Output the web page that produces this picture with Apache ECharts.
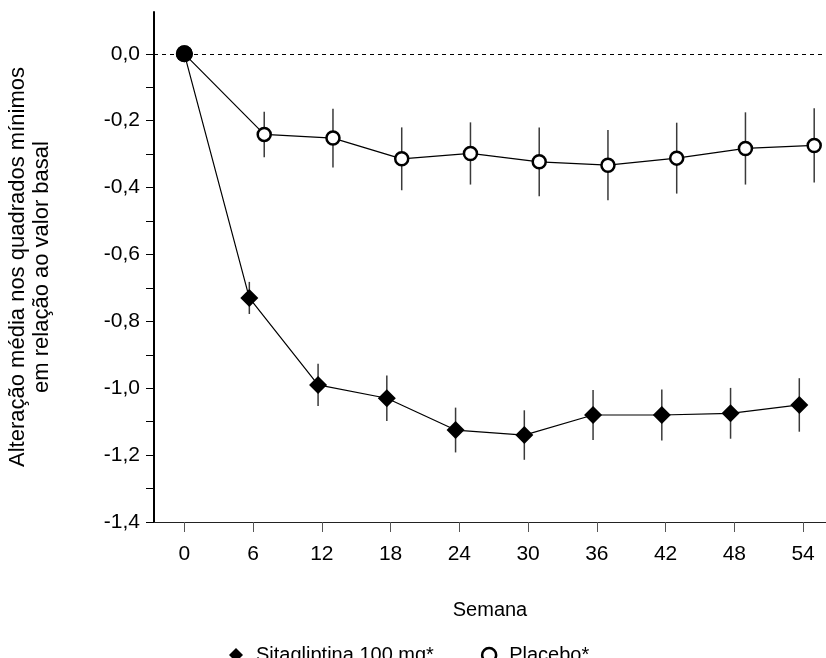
<!DOCTYPE html>
<html><head><meta charset="utf-8">
<script src="https://cdn.jsdelivr.net/npm/echarts@6/dist/echarts.min.js"></script>
<style>html,body{margin:0;padding:0;background:#fff}#c{width:826px;height:658px}</style>
</head><body><div id="c"></div>
<script>
// ---- data ----
const weeks = [0, 6, 12, 18, 24, 30, 36, 42, 48, 54];
const sitaMean = [0, -0.73, -0.99, -1.03, -1.125, -1.14, -1.08, -1.08, -1.075, -1.05];
const sitaErr  = [0, 0.048, 0.063, 0.068, 0.067, 0.074, 0.075, 0.076, 0.076, 0.08];
const placMean = [0, -0.241, -0.252, -0.314, -0.298, -0.323, -0.333, -0.312, -0.283, -0.274];
const placErr  = [0, 0.068, 0.088, 0.094, 0.093, 0.103, 0.105, 0.106, 0.108, 0.111];
const yTickValues  = [0, -0.1, -0.2, -0.3, -0.4, -0.5, -0.6, -0.7, -0.8, -0.9, -1.0, -1.1, -1.2, -1.3, -1.4];
const yLabelValues = [0, -0.2, -0.4, -0.6, -0.8, -1.0, -1.2, -1.4];
const xTickValues  = weeks;
const sitaName = 'Sitagliptina 100 mg*';
const placName = 'Placebo*';
const yTitle = 'Alteração média nos quadrados mínimos\nem relação ao valor basal';
const xTitle = 'Semana';

// small horizontal offsets of the two groups (in weeks), as drawn in the figure
const SITA_SHIFT = -0.33, PLAC_SHIFT = 0.97;

const FONT = "'Liberation Sans', Arial, sans-serif";
const shiftX = (w, s) => (w === 0 ? 0 : w + s);

const sitaPts = weeks.map((w, i) => {
  const p = { value: [shiftX(w, SITA_SHIFT), sitaMean[i]] };
  if (w === 0) { p.symbol = 'circle'; p.symbolSize = 17; }
  return p;
});
const placPts = weeks.map((w, i) => {
  const p = { value: [shiftX(w, PLAC_SHIFT), placMean[i]] };
  if (w === 0) { p.symbol = 'circle'; p.symbolSize = 17; p.itemStyle = { color: '#000', borderColor: '#000', borderWidth: 0 }; }
  return p;
});
const sitaBars = weeks.map((w, i) => [shiftX(w, SITA_SHIFT), sitaMean[i] - sitaErr[i], sitaMean[i] + sitaErr[i]]).filter((d, i) => sitaErr[i] > 0);
const placBars = weeks.map((w, i) => [shiftX(w, PLAC_SHIFT), placMean[i] - placErr[i], placMean[i] + placErr[i]]).filter((d, i) => placErr[i] > 0);

function errRender(params, api) {
  const x = api.value(0), lo = api.value(1), hi = api.value(2);
  const p1 = api.coord([x, hi]), p2 = api.coord([x, lo]);
  return { type: 'line', shape: { x1: p1[0], y1: p1[1], x2: p2[0], y2: p2[1] },
           style: { stroke: '#3a3a3a', lineWidth: 1.5 } };
}

const chart = echarts.init(document.getElementById('c'), null, { renderer: 'canvas' });
chart.setOption({
  animation: false,
  backgroundColor: '#fff',
  textStyle: { fontFamily: FONT },
  grid: { left: 154, right: 0, top: 12, bottom: 136, containLabel: false, outerBoundsMode: 'none' },
  legend: {
    left: 224, top: 640, itemWidth: 14, itemHeight: 14, itemGap: 47,
    textStyle: { fontFamily: FONT, fontSize: 20, color: '#000', padding: [0, 0, 0, 8] },
    data: [
      { name: sitaName, icon: 'diamond', itemStyle: { color: '#000' } },
      { name: placName, icon: 'circle', itemStyle: { color: '#fff', borderColor: '#000', borderWidth: 2.5 } }
    ]
  },
  xAxis: {
    type: 'value', min: -2.65, max: 56,
    name: xTitle, nameLocation: 'middle', nameGap: 78,
    nameTextStyle: { fontSize: 20, color: '#000', fontFamily: FONT },
    axisLine: { show: true, onZero: false, lineStyle: { color: '#222', width: 1.2 } },
    axisTick: { show: true, customValues: xTickValues, length: 10, lineStyle: { color: '#555', width: 1 } },
    axisLabel: { customValues: xTickValues, margin: 22, fontSize: 21, color: '#000', fontFamily: FONT },
    splitLine: { show: false }
  },
  yAxis: {
    type: 'value', min: -1.4, max: 0.125,
    name: yTitle, nameLocation: 'middle', nameGap: 100, nameRotate: 90,
    nameTextStyle: { fontSize: 22, color: '#000', fontFamily: FONT, lineHeight: 24, align: 'center' },
    axisLine: { show: true, onZero: false, lineStyle: { color: '#000', width: 2 } },
    axisTick: { show: true, customValues: yTickValues, length: 8, lineStyle: { color: '#000', width: 1 } },
    axisLabel: { customValues: yLabelValues, margin: 14, fontSize: 21, color: '#000', fontFamily: FONT,
                 formatter: v => (Math.abs(v) < 1e-9 ? 0 : v).toFixed(1).replace('.', ',') },
    splitLine: { show: false }
  },
  series: [
    { name: 'sitaErr', type: 'custom', renderItem: errRender, data: sitaBars, z: 1, silent: true },
    { name: 'placErr', type: 'custom', renderItem: errRender, data: placBars, z: 1, silent: true },
    {
      name: sitaName, type: 'line', data: sitaPts, z: 3,
      symbol: 'diamond', symbolSize: 18,
      itemStyle: { color: '#000' },
      lineStyle: { color: '#000', width: 1.2 },
      markLine: {
        silent: true, symbol: 'none', label: { show: false },
        lineStyle: { color: '#000', type: [4, 4], width: 1 },
        data: [{ yAxis: 0 }]
      }
    },
    {
      name: placName, type: 'line', data: placPts, z: 4,
      symbol: 'circle', symbolSize: 13,
      itemStyle: { color: '#fff', borderColor: '#000', borderWidth: 2.5 },
      lineStyle: { color: '#000', width: 1.2 }
    }
  ]
});
</script></body></html>
